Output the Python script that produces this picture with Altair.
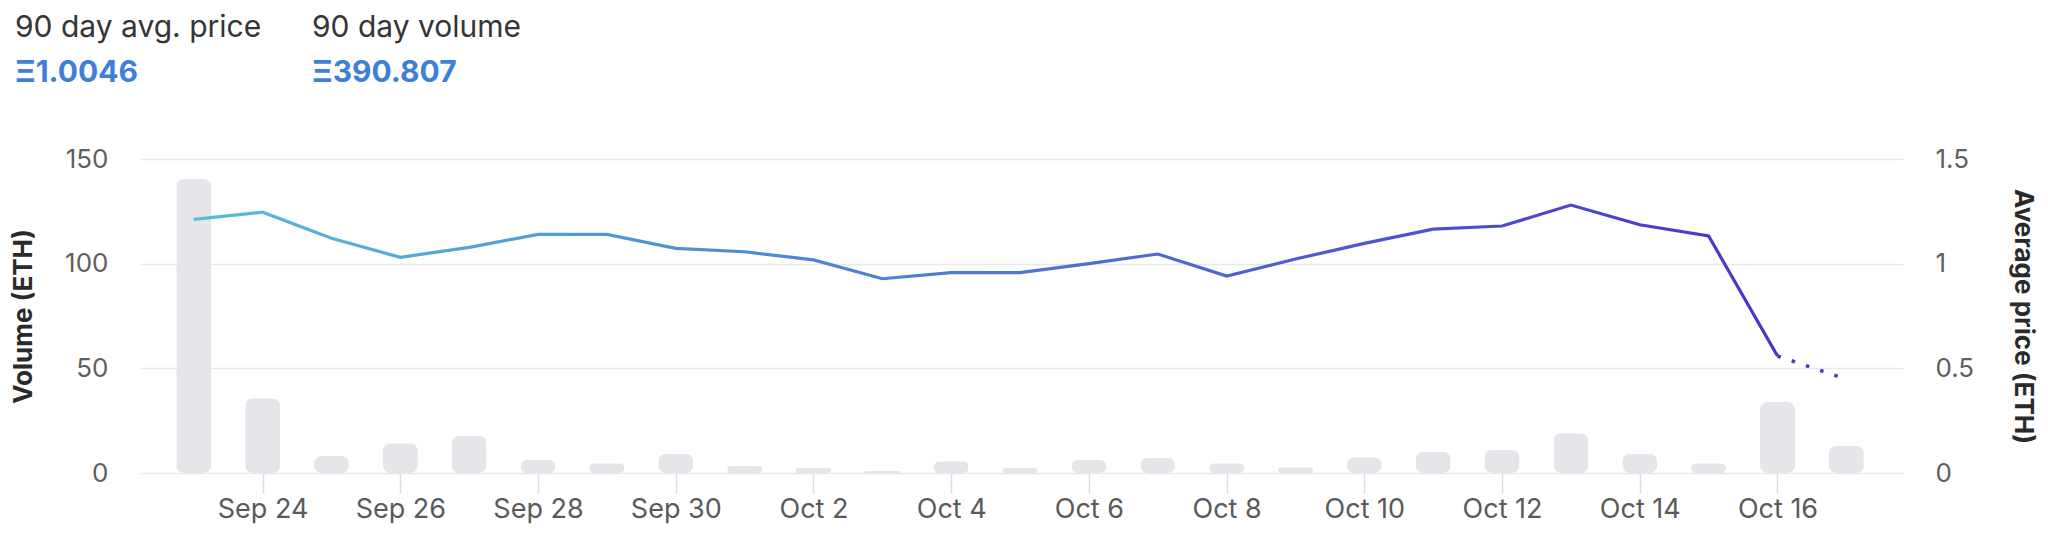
import altair as alt
import pandas as pd

# ---- data ----
dates = ["2023-09-23", "2023-09-24", "2023-09-25", "2023-09-26", "2023-09-27",
         "2023-09-28", "2023-09-29", "2023-09-30", "2023-10-01", "2023-10-02",
         "2023-10-03", "2023-10-04", "2023-10-05", "2023-10-06", "2023-10-07",
         "2023-10-08", "2023-10-09", "2023-10-10", "2023-10-11", "2023-10-12",
         "2023-10-13", "2023-10-14", "2023-10-15", "2023-10-16", "2023-10-17"]
volume = [140.5, 35.7, 8.1, 14.2, 17.8, 6.2, 4.6, 9.2, 3.3, 2.6, 1.0, 5.6, 2.6,
          6.2, 7.3, 4.6, 2.7, 7.5, 10.2, 11.1, 19.0, 9.2, 4.6, 33.9, 13.0]
price_dates = dates[:24]
price = [1.212, 1.246, 1.121, 1.030, 1.078, 1.140, 1.140, 1.073, 1.057, 1.018,
         0.928, 0.957, 0.957, 1.0, 1.046, 0.941, 1.022, 1.097, 1.165, 1.180,
         1.280, 1.186, 1.132, 0.559]
proj_dates = ["2023-10-16", "2023-10-17"]
proj_price = [0.559, 0.448]
tick_dates = ["2023-09-24", "2023-09-26", "2023-09-28", "2023-09-30", "2023-10-02",
              "2023-10-04", "2023-10-06", "2023-10-08", "2023-10-10", "2023-10-12",
              "2023-10-14", "2023-10-16"]
vol_ticks = [0, 50, 100, 150]
price_ticks = [0, 0.5, 1, 1.5]
header_labels = ["90 day avg. price", "90 day volume"]
header_values = ["\u039e1.0046", "\u039e390.807"]

FONT = "Inter"


def dt(s, hours=0):
    y, m, d = (int(v) for v in s.split("-"))
    return alt.DateTime(year=y, month=m, date=d, hours=hours, utc=True)


vol_df = pd.DataFrame({"date": dates, "volume": volume})
price_df = pd.DataFrame({"date": price_dates, "price": price})
proj_df = pd.DataFrame({"date": proj_dates, "price": proj_price})

x_enc = alt.X(
    "date:T",
    scale=alt.Scale(type="utc", domain=[dt("2023-09-22", 7), dt("2023-10-17", 18)]),
    axis=alt.Axis(
        values=[dt(s) for s in tick_dates],
        labelExpr="utcFormat(datum.value, '%b %-d')",
        title=None,
        grid=False,
        domain=False,
        ticks=True,
        tickSize=20,
        tickColor="#dedede",
        tickWidth=1.5,
        labelPadding=3,
        labelFlush=False,
        labelOverlap=False,
        labelFont=FONT,
        labelFontSize=27,
        labelColor="#5a5a5a",
    ),
)

bars = alt.Chart(vol_df).mark_bar(width=35, cornerRadius=8, color="#e5e5ea").encode(
    x=x_enc,
    y=alt.Y(
        "volume:Q",
        scale=alt.Scale(domain=[0, 150], nice=False),
        axis=alt.Axis(
            orient="left",
            values=vol_ticks,
            title="Volume (ETH)",
            grid=True,
            gridColor="#e9e9e9",
            gridWidth=1.5,
            domain=False,
            ticks=False,
            tickSize=0,
            labelPadding=32,
            labelFont=FONT,
            labelFontSize=26,
            labelColor="#5f5f5f",
            titleFont=FONT,
            titleFontSize=26,
            titleFontWeight="bold",
            titleColor="#2a2a2a",
            titleX=-117,
            titleY=157,
            titleBaseline="middle",
            titleAlign="center",
        ),
    ),
)

y_price = alt.Y(
    "price:Q",
    scale=alt.Scale(domain=[0, 1.5], nice=False),
    axis=alt.Axis(
        orient="right",
        values=price_ticks,
        format="~g",
        title="Average price (ETH)",
        grid=False,
        domain=False,
        ticks=False,
        tickSize=0,
        labelPadding=32,
        labelFont=FONT,
        labelFontSize=26,
        labelColor="#5f5f5f",
        titleFont=FONT,
        titleFontSize=26,
        titleFontWeight="bold",
        titleColor="#2a2a2a",
        titleX=119,
        titleY=157,
        titleBaseline="middle",
        titleAlign="center",
    ),
)

grad = alt.Gradient(
    gradient="linear",
    stops=[
        alt.GradientStop(color="#5bbbd9", offset=0),
        alt.GradientStop(color="#4f8cd3", offset=0.35),
        alt.GradientStop(color="#4f5ccf", offset=0.7),
        alt.GradientStop(color="#4a32c9", offset=1),
    ],
    x1=0, x2=1, y1=0, y2=0,
)

line = alt.Chart(price_df).mark_line(strokeWidth=3.2, color=grad).encode(
    x=x_enc, y=y_price
)
dotted = alt.Chart(proj_df).mark_line(
    strokeWidth=3.5, color="#4a36c6", strokeDash=[3.5, 11.5]
).encode(x=x_enc, y=y_price)

price_layer = alt.layer(line, dotted)


def header(text, xpx, ypx, size, weight, color):
    return alt.Chart(pd.DataFrame({"t": [text]})).mark_text(
        align="left", baseline="alphabetic", font=FONT, fontSize=size,
        fontWeight=weight, color=color
    ).encode(x=alt.value(xpx), y=alt.value(ypx), text="t:N")


texts = [
    header(header_labels[0], -125, -122, 30, "normal", "#353535"),
    header(header_labels[1], 172, -122, 30, "normal", "#353535"),
    header(header_values[0], -125, -77, 30, "bold", "#3f7fd8"),
    header(header_values[1], 172, -77, 30, "bold", "#3f7fd8"),
]

chart = alt.layer(bars, price_layer, *texts).resolve_scale(y="independent").properties(
    width=1763,
    height=314,
    autosize=alt.AutoSizeParams(type="none"),
    padding={"left": 132, "top": 151, "right": 137, "bottom": 55},
    background="white",
).configure_view(stroke=None)

chart.save("out.html", embed_options={"renderer": "svg", "actions": False})
